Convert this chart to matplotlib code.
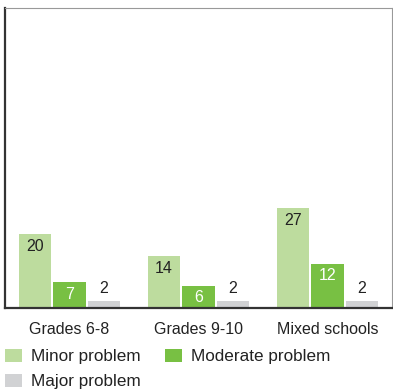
import matplotlib
matplotlib.use('Agg')
import matplotlib.pyplot as plt
from matplotlib.patches import Patch
import numpy as np

plt.rcParams['font.family'] = ['Liberation Sans', 'DejaVu Sans']

groups = ['Grades 6-8', 'Grades 9-10', 'Mixed schools']
series = ['Minor problem', 'Moderate problem', 'Major problem']
minor = [20, 14, 27]
moderate = [7, 6, 12]
major = [2, 2, 2]

colors = ['#bddc9e', '#78c043', '#d1d2d4']
text_colors = ['#222222', 'white', '#222222']

fig = plt.figure(figsize=(3.93, 3.91), dpi=100)
ax = fig.add_axes([5 / 393, 1 - 308 / 391, 387 / 393, 300 / 391])

x = np.arange(len(groups))
width = 0.25
offset = 0.268
for i, (vals, col, tcol) in enumerate(zip([minor, moderate, major], colors, text_colors)):
    pos = x + (i - 1) * offset
    ax.bar(pos, vals, width=width, color=col, label=series[i])
    for p, v in zip(pos, vals):
        if v >= 5:
            ax.text(p, v - 3.3, str(v), ha='center', va='center', color=tcol, fontsize=11.5)
        else:
            ax.text(p, v + 3.2, str(v), ha='center', va='center', color=tcol, fontsize=11.5)

ax.set_xlim(-0.5, 2.5)
ax.set_ylim(0, 81)
ax.set_yticks([])
ax.set_xticks(x)
ax.set_xticklabels(groups, fontsize=11.5, color='#222222')
ax.tick_params(axis='x', length=0, pad=10)

for s in ['left', 'bottom']:
    ax.spines[s].set_color('#333333')
    ax.spines[s].set_linewidth(1.6)
for s in ['top', 'right']:
    ax.spines[s].set_color('#999999')
    ax.spines[s].set_linewidth(0.8)

# column-major fill: minor, major in the first column, moderate in the second
order = [0, 2, 1]
handles = [Patch(facecolor=colors[k], edgecolor='none') for k in order]
labels = [series[k] for k in order]
fig.legend(handles, labels, ncol=2, loc='upper left', bbox_to_anchor=(0.012, 0.108),
           frameon=False, fontsize=12.3, handlelength=1.0, handleheight=0.8,
           handletextpad=0.55, columnspacing=1.4, labelspacing=0.55, borderaxespad=0,
           borderpad=0, labelcolor='#222222')

fig.savefig('out.png', dpi=100)
